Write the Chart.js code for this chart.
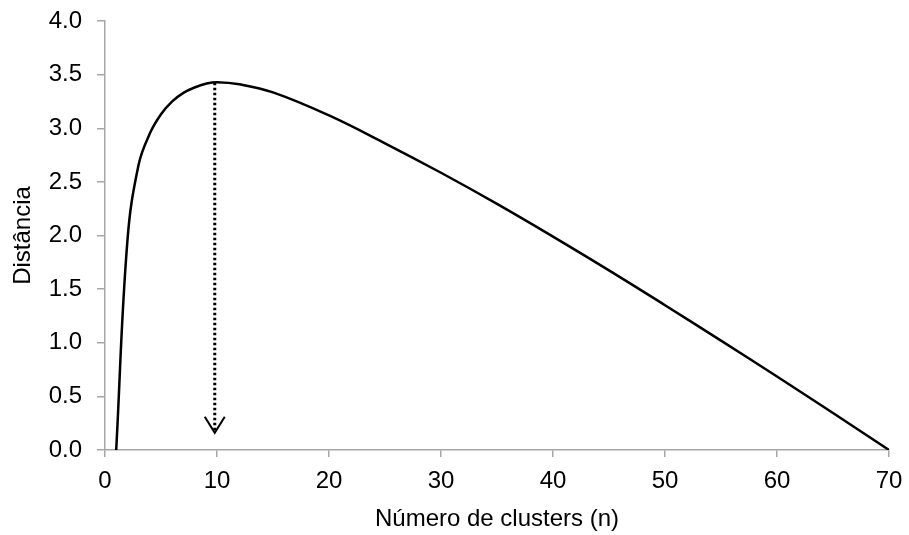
<!DOCTYPE html>
<html>
<head>
<meta charset="utf-8">
<script src="https://cdn.jsdelivr.net/npm/chart.js@4.4.1/dist/chart.umd.min.js"></script>
<style>
  html, body { margin: 0; padding: 0; background: #fff; }
  #wrap { width: 909px; height: 535px; position: relative; }
</style>
</head>
<body>
<div id="wrap"><canvas id="distChart"></canvas></div>
<script>
// distance vs number of clusters
const clusters = [1, 2, 3, 4, 5, 6, 7, 8, 9, 10, 12, 15, 20, 25, 30, 35, 40, 45, 50, 55, 60, 65, 70];
const distance = [0, 1.95, 2.66, 2.95, 3.13, 3.25, 3.33, 3.38, 3.415, 3.43, 3.41, 3.335, 3.12, 2.86, 2.585, 2.295, 1.99, 1.675, 1.35, 1.02, 0.685, 0.345, 0];

// dotted arrow dropped from the maximum
const arrowX = 9.8;
const arrowTop = 3.425;
const arrowTip = 0.16;

const xTicks = [0, 10, 20, 30, 40, 50, 60, 70];
const yTicks = [0, 0.5, 1.0, 1.5, 2.0, 2.5, 3.0, 3.5, 4.0];

const axisGray = '#a6a6a6';
const font = {family: '"Liberation Sans", Arial, sans-serif', size: 24};

// open "V" head at the end of the arrow dataset
const arrowHead = {
  id: 'arrowHead',
  afterDatasetsDraw(chart) {
    const meta = chart.getDatasetMeta(1);
    const tip = meta.data[meta.data.length - 1];
    const c = chart.ctx;
    c.save();
    c.strokeStyle = '#000';
    c.lineWidth = 2;
    c.beginPath();
    c.moveTo(tip.x - 10, tip.y - 16);
    c.lineTo(tip.x, tip.y);
    c.lineTo(tip.x + 10, tip.y - 16);
    c.stroke();
    c.restore();
  }
};

document.addEventListener('DOMContentLoaded', function() {
  const ctx = document.getElementById('distChart');

  let points = [];
  for (let i = 0; i < clusters.length; i++) {
    points.push({x: clusters[i], y: distance[i]});
  }

  new Chart(ctx, {
    type: 'line',
    data: {
      datasets: [
        {
          data: points,
          borderColor: '#000',
          borderWidth: 2.5,
          pointRadius: 0,
          tension: 0.4
        },
        {
          data: [{x: arrowX, y: arrowTop}, {x: arrowX, y: arrowTip}],
          borderColor: '#000',
          borderWidth: 3,
          borderDash: [2.5, 2.5],
          pointRadius: 0
        }
      ]
    },
    plugins: [arrowHead],
    options: {
      responsive: true,
      maintainAspectRatio: false,
      animation: false,
      layout: {padding: {left: 9, right: 20, top: 21, bottom: 0}},
      plugins: {legend: {display: false}, tooltip: {enabled: false}},
      scales: {
        x: {
          type: 'linear',
          min: 0,
          max: 70,
          afterBuildTicks: axis => { axis.ticks = xTicks.map(v => ({value: v})); },
          afterFit: scale => {
            scale.height = 85;
            // keep the plot edges fixed, labels may overhang
            scale.paddingLeft = 0;
            scale.paddingRight = 0;
          },
          border: {color: axisGray, width: 1.5},
          grid: {drawOnChartArea: false, color: axisGray, tickLength: 7, lineWidth: 1.5},
          ticks: {color: '#000', font: font, padding: 10, maxRotation: 0},
          title: {display: true, text: 'Número de clusters (n)', color: '#000', font: font, padding: {top: 2, bottom: 1}}
        },
        y: {
          min: 0,
          max: 4,
          afterBuildTicks: axis => { axis.ticks = yTicks.map(v => ({value: v})); },
          afterFit: scale => {
            scale.width = 96;
            scale.paddingTop = 0;
            scale.paddingBottom = 0;
          },
          border: {color: axisGray, width: 1.5},
          grid: {drawOnChartArea: false, color: axisGray, tickLength: 8, lineWidth: 1.5},
          ticks: {color: '#000', font: font, padding: 15, callback: v => v.toFixed(1)},
          title: {display: true, text: 'Distância', color: '#000', font: font, padding: {top: 0, bottom: 0}}
        }
      }
    }
  });
});
</script>
</body>
</html>
